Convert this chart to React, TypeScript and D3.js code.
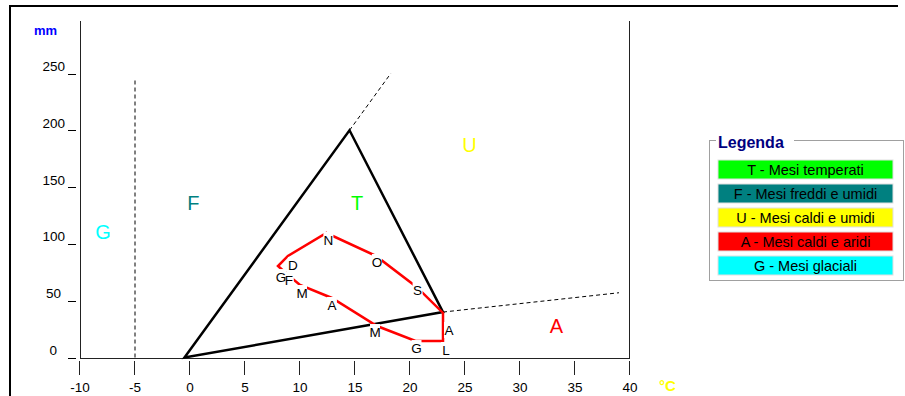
import React from 'react';
import * as d3 from 'd3';

// monthly climate data: mean temperature (°C) and precipitation (mm)
const months = ['G', 'F', 'M', 'A', 'M', 'G', 'L', 'A', 'S', 'O', 'N', 'D'];
const temps = [8.0, 8.8, 10.0, 12.9, 17.0, 20.5, 23.0, 23.0, 20.6, 16.9, 12.4, 8.9];
const precs = [80.5, 73.5, 63.8, 52.4, 27.7, 14.5, 14.5, 39.2, 62.1, 89.4, 109.6, 89.4];

// label nudges in px (how the original program placed the month letters)
const labelDx = [3, 2, 2, 0, -2, 1, 3, 6, 1, 1, 2, 5];
const labelDy = [11, 6, 8, 7, 6, 7, 9, 17, 3, 6, 7, 9];

// Peguy triangle and guide lines
const triangle: [number, number][] = [[-0.5, 0], [14.5, 200], [23, 40]];
const dashedLines: [number, number][][] = [
  [[-5, 0], [-5, 245]],
  [[14.5, 200], [18.25, 250]],
  [[23, 40], [39, 57]],
];

const xTicks = [-10, -5, 0, 5, 10, 15, 20, 25, 30, 35, 40];
const yTicks = [0, 50, 100, 150, 200, 250];

const zones = [
  { letter: 'G', t: -7.9, p: 110.5, color: '#00ffff' },
  { letter: 'F', t: 0.3, p: 136, color: '#008080' },
  { letter: 'T', t: 15.2, p: 136, color: '#00ff00' },
  { letter: 'U', t: 25.4, p: 187, color: '#ffff00' },
  { letter: 'A', t: 33.3, p: 27.7, color: '#ff0000' },
];

const legendItems = [
  { text: 'T - Mesi temperati', color: '#00ff00' },
  { text: 'F - Mesi freddi e umidi', color: '#008080' },
  { text: 'U - Mesi caldi e umidi', color: '#ffff00' },
  { text: 'A - Mesi caldi e aridi', color: '#ff0000' },
  { text: 'G - Mesi glaciali', color: '#00ffff' },
];

const font = 'Arial, "Liberation Sans", sans-serif';

export default function App() {
  const x = d3.scaleLinear().domain([-10, 40]).range([80, 630]);
  const y = d3.scaleLinear().domain([0, 250]).range([357.5, 73.5]);

  const line = d3.line<[number, number]>().x(d => x(d[0])).y(d => y(d[1]));
  const pts: [number, number][] = temps.map((t, i) => [t, precs[i]]);
  const redPath = d3.line<[number, number]>()
    .x(d => x(d[0])).y(d => y(d[1]))
    .curve(d3.curveLinearClosed)(pts) || '';

  const labelPos = months.map((m, i) => ({
    m,
    cx: x(temps[i]) + labelDx[i],
    cy: y(precs[i]) + labelDy[i],
  }));

  const axisY = 358;
  const top = 21;

  return (
    <svg width={905} height={396} style={{ position: 'absolute', left: 0, top: 0, background: '#fff' }}
      fontFamily={font}>
      {/* outer frame */}
      <line x1={9} y1={6} x2={898} y2={6} stroke="#000" strokeWidth={2} />
      <line x1={10} y1={5} x2={10} y2={396} stroke="#000" strokeWidth={2} />

      {/* axes */}
      <line x1={80.5} y1={top} x2={80.5} y2={axisY} stroke="#222" />
      <line x1={629.5} y1={top} x2={629.5} y2={axisY} stroke="#222" />
      <line x1={80} y1={axisY + 0.5} x2={630} y2={axisY + 0.5} stroke="#222" />

      {xTicks.map(v => (
        <g key={'x' + v}>
          <line x1={Math.round(x(v)) - 0.5} x2={Math.round(x(v)) - 0.5} y1={361} y2={375} stroke="#222" />
          <text x={x(v)} y={392} textAnchor="middle" fontSize={13.5} fill="#000">{v}</text>
        </g>
      ))}
      {yTicks.map(v => (
        <g key={'y' + v}>
          <line x1={68} x2={76} y1={Math.round(y(v)) + 0.5} y2={Math.round(y(v)) + 0.5} stroke="#000" />
          <text x={65 - (3 - String(v).length) * 4} y={y(v) - 2.5} textAnchor="end" fontSize={13.5} fill="#000">{v}</text>
        </g>
      ))}
      <text x={34} y={35} fontSize={13} fontWeight="bold" fill="#0000ff">mm</text>
      <text x={659} y={391} fontSize={15} fontWeight="bold" fill="#ffff00">°C</text>

      {/* guide lines */}
      {dashedLines.map((l, i) => (
        <path key={'d' + i} d={line(l) || ''} stroke="#000" strokeWidth={1} strokeDasharray="4,3" fill="none" />
      ))}
      <path d={(line(triangle) || '') + 'Z'} stroke="#000" strokeWidth={2.5} fill="none" strokeLinejoin="miter" />

      {/* zone letters */}
      {zones.map(z => (
        <text key={z.letter} x={x(z.t)} y={y(z.p) + 7} textAnchor="middle" fontSize={20} fill={z.color}>{z.letter}</text>
      ))}

      {/* monthly path */}
      <path d={redPath} stroke="#ff0000" strokeWidth={2.5} fill="none" />
      {labelPos.map((l, i) => (
        <rect key={'b' + i} x={l.cx - 5} y={l.cy - 8} width={10} height={16} fill="#fff" />
      ))}
      {labelPos.map((l, i) => (
        <text key={'t' + i} x={l.cx} y={l.cy + 5} textAnchor="middle" fontSize={13.5} fill="#000">{l.m}</text>
      ))}

      {/* legend */}
      <rect x={709.5} y={140.5} width={194} height={140} fill="#fff" stroke="#a0a0a0" />
      <rect x={716} y={130} width={78} height={18} fill="#fff" />
      <text x={718} y={148} fontSize={16} fontWeight="bold" fill="#000080">Legenda</text>
      {legendItems.map((it, i) => (
        <g key={'l' + i}>
          <rect x={718} y={160 + i * 24} width={175} height={19} fill={it.color} stroke="#e0e0e0" />
          <text x={805.5} y={175 + i * 24} textAnchor="middle" fontSize={14.5} fill="#000">{it.text}</text>
        </g>
      ))}
    </svg>
  );
}
